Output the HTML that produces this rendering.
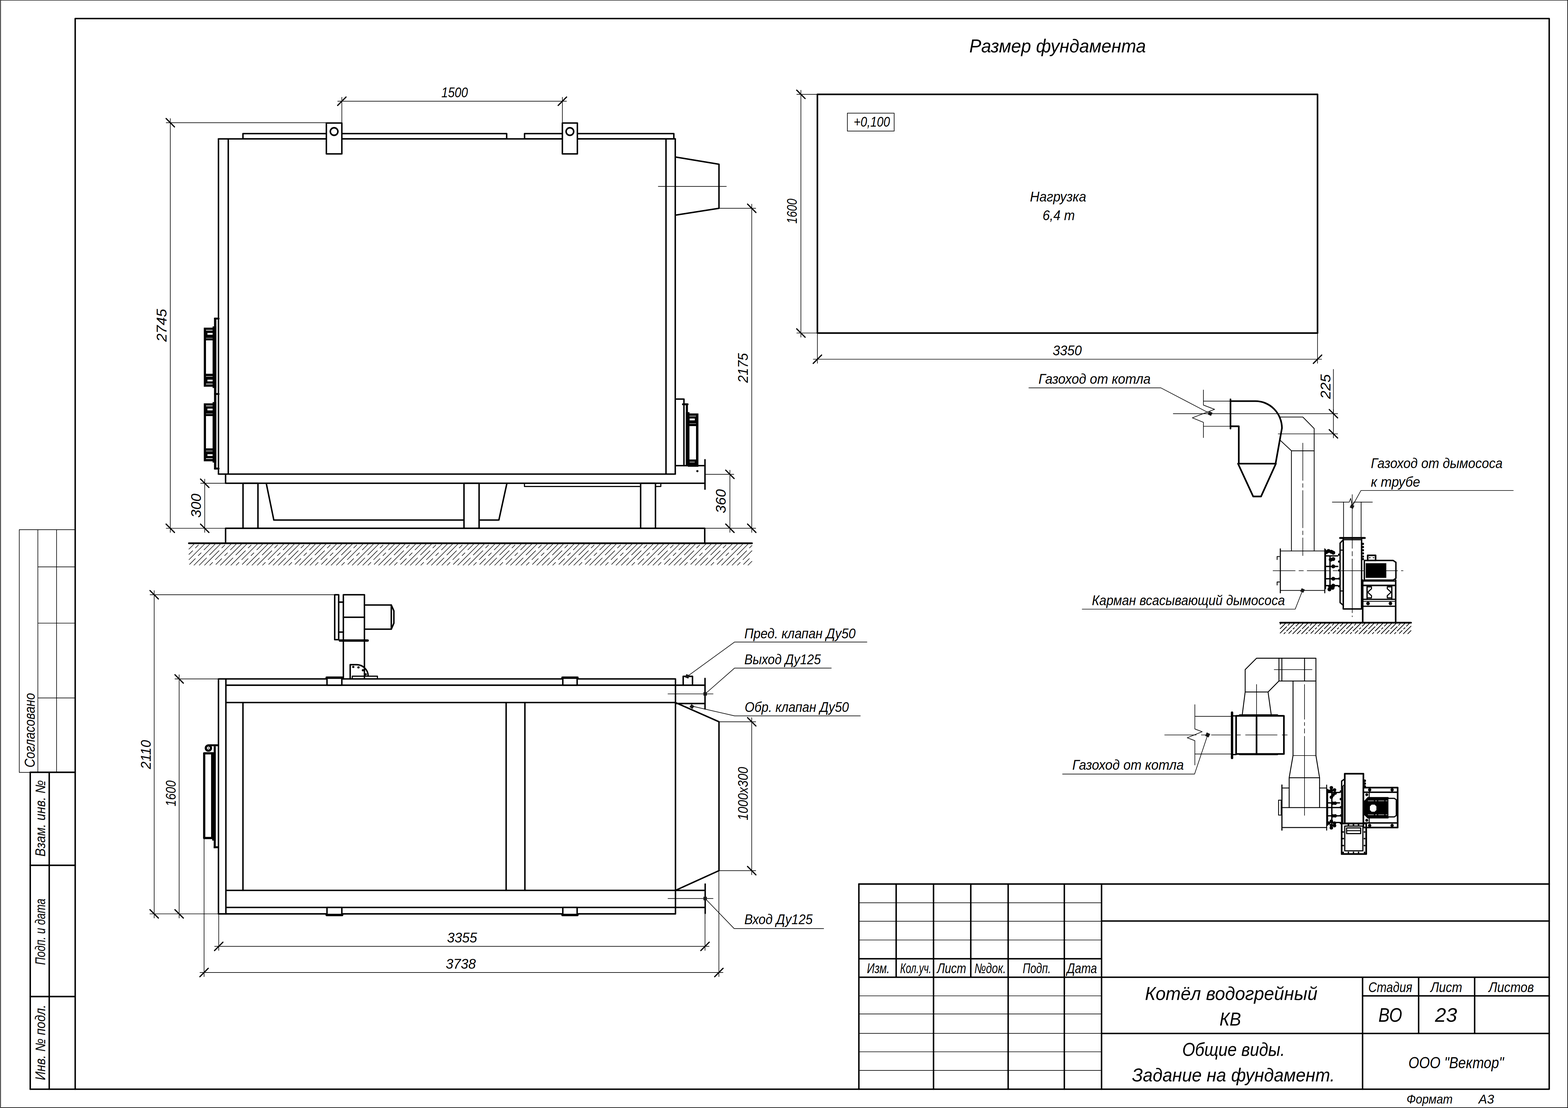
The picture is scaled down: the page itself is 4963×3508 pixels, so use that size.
<!DOCTYPE html>
<html><head><meta charset="utf-8"><title>drawing</title>
<style>
html,body{margin:0;padding:0;background:#fff}
svg{display:block}
text{font-family:"Liberation Sans",sans-serif;font-style:italic;fill:#000;stroke:none}
</style></head><body>
<svg width="4963" height="3508" viewBox="0 0 4963 3508" stroke="#000" fill="none" stroke-linecap="round" stroke-linejoin="round">
<rect x="0" y="0" width="4963" height="3508" fill="#fff" stroke="none"/>
<g id="part_frame">
<rect x="1.8" y="0.6" width="4960.2" height="3506.4" stroke-width="2" fill="none"/>
<rect x="238" y="58.8" width="4665.5" height="3389.7" stroke-width="4.6" fill="none"/>
<rect x="61" y="1677" width="177" height="768.5" stroke-width="1.9" fill="none"/>
<line x1="119.8" y1="1677" x2="119.8" y2="2445.5" stroke-width="1.9"/>
<line x1="179.1" y1="1677" x2="179.1" y2="2445.5" stroke-width="1.9"/>
<line x1="119.8" y1="1794.8" x2="238" y2="1794.8" stroke-width="1.9"/>
<line x1="119.8" y1="1972.9" x2="238" y2="1972.9" stroke-width="1.9"/>
<line x1="119.8" y1="2209.8" x2="238" y2="2209.8" stroke-width="1.9"/>
<text transform="translate(109.7,2430) rotate(-90)" font-size="46" textLength="236" lengthAdjust="spacingAndGlyphs">Согласовано</text>
<line x1="95.7" y1="2445.1" x2="95.7" y2="3448.5" stroke-width="4.6"/>
<line x1="155.8" y1="2445.1" x2="155.8" y2="3448.5" stroke-width="4.6"/>
<line x1="95.7" y1="2445.1" x2="238" y2="2445.1" stroke-width="4.6"/>
<line x1="95.7" y1="2739.6" x2="238" y2="2739.6" stroke-width="4.6"/>
<line x1="95.7" y1="3155.1" x2="238" y2="3155.1" stroke-width="4.6"/>
<line x1="95.7" y1="3448.5" x2="238" y2="3448.5" stroke-width="4.6"/>
<text transform="translate(142.8,2712) rotate(-90)" font-size="44" textLength="242" lengthAdjust="spacingAndGlyphs">Взам. инв. №</text>
<text transform="translate(142.8,3055) rotate(-90)" font-size="44" textLength="210" lengthAdjust="spacingAndGlyphs">Подп. и дата</text>
<text transform="translate(142.8,3420) rotate(-90)" font-size="44" textLength="239" lengthAdjust="spacingAndGlyphs">Инв. № подл.</text>
<line x1="2718.5" y1="2798.9" x2="4903.5" y2="2798.9" stroke-width="4.6"/>
<line x1="2718.5" y1="2798.9" x2="2718.5" y2="3448.5" stroke-width="4.6"/>
<line x1="2836.5" y1="2798.9" x2="2836.5" y2="3093" stroke-width="4.6"/>
<line x1="3072.7" y1="2798.9" x2="3072.7" y2="3093" stroke-width="4.6"/>
<line x1="2954.8" y1="2798.9" x2="2954.8" y2="3448.5" stroke-width="4.6"/>
<line x1="3191" y1="2798.9" x2="3191" y2="3448.5" stroke-width="4.6"/>
<line x1="3368.8" y1="2798.9" x2="3368.8" y2="3448.5" stroke-width="4.6"/>
<line x1="3486.6" y1="2798.9" x2="3486.6" y2="3448.5" stroke-width="4.6"/>
<line x1="2718.5" y1="2858.2" x2="3486.6" y2="2858.2" stroke-width="1.9"/>
<line x1="2718.5" y1="2916.7" x2="3486.6" y2="2916.7" stroke-width="1.9"/>
<line x1="2718.5" y1="2976.1" x2="3486.6" y2="2976.1" stroke-width="1.9"/>
<line x1="2718.5" y1="3152.9" x2="3486.6" y2="3152.9" stroke-width="1.9"/>
<line x1="2718.5" y1="3210.3" x2="3486.6" y2="3210.3" stroke-width="1.9"/>
<line x1="2718.5" y1="3271.7" x2="3486.6" y2="3271.7" stroke-width="1.9"/>
<line x1="2718.5" y1="3330.1" x2="3486.6" y2="3330.1" stroke-width="1.9"/>
<line x1="2718.5" y1="3389" x2="3486.6" y2="3389" stroke-width="1.9"/>
<line x1="2718.5" y1="3035.5" x2="3486.6" y2="3035.5" stroke-width="4.6"/>
<line x1="2718.5" y1="3094" x2="4903.5" y2="3094" stroke-width="4.6"/>
<line x1="3486.6" y1="2916" x2="4903.5" y2="2916" stroke-width="4.6"/>
<line x1="3486.6" y1="3272" x2="4903.5" y2="3272" stroke-width="4.6"/>
<line x1="4312.8" y1="3094" x2="4312.8" y2="3448.5" stroke-width="4.6"/>
<line x1="4490.2" y1="3094" x2="4490.2" y2="3272" stroke-width="4.6"/>
<line x1="4667.5" y1="3094" x2="4667.5" y2="3272" stroke-width="4.6"/>
<line x1="4312.8" y1="3153" x2="4903.5" y2="3153" stroke-width="4.6"/>
<text x="2744" y="3080.6" font-size="44" textLength="72" lengthAdjust="spacingAndGlyphs">Изм.</text>
<text x="2849" y="3080.6" font-size="44" textLength="99" lengthAdjust="spacingAndGlyphs">Кол.уч.</text>
<text x="2966" y="3080.6" font-size="44" textLength="92" lengthAdjust="spacingAndGlyphs">Лист</text>
<text x="3084" y="3080.6" font-size="44" textLength="100" lengthAdjust="spacingAndGlyphs">№док.</text>
<text x="3237" y="3080.6" font-size="44" textLength="89" lengthAdjust="spacingAndGlyphs">Подп.</text>
<text x="3377" y="3080.6" font-size="44" textLength="95" lengthAdjust="spacingAndGlyphs">Дата</text>
<text x="3624" y="3166.2" font-size="60" textLength="546" lengthAdjust="spacingAndGlyphs">Котёл водогрейный</text>
<text x="3860" y="3247.2" font-size="60" textLength="68" lengthAdjust="spacingAndGlyphs">КВ</text>
<text x="3742" y="3342.8" font-size="60" textLength="325" lengthAdjust="spacingAndGlyphs">Общие виды.</text>
<text x="3583" y="3423.8" font-size="60" textLength="642" lengthAdjust="spacingAndGlyphs">Задание на фундамент.</text>
<text x="4331" y="3141" font-size="44" textLength="139" lengthAdjust="spacingAndGlyphs">Стадия</text>
<text x="4528" y="3141" font-size="44" textLength="100" lengthAdjust="spacingAndGlyphs">Лист</text>
<text x="4712" y="3141" font-size="44" textLength="143" lengthAdjust="spacingAndGlyphs">Листов</text>
<text x="4363" y="3234.9" font-size="63" textLength="75" lengthAdjust="spacingAndGlyphs">ВО</text>
<text x="4542" y="3234.9" font-size="63" textLength="70" lengthAdjust="spacingAndGlyphs">23</text>
<text x="4458" y="3381.8" font-size="50" textLength="302" lengthAdjust="spacingAndGlyphs">ООО "Вектор"</text>
<text x="4452" y="3493.7" font-size="40" textLength="146" lengthAdjust="spacingAndGlyphs">Формат</text>
<text x="4680" y="3493.7" font-size="40" textLength="49" lengthAdjust="spacingAndGlyphs">А3</text>
</g>
<g id="part_front">
<path d="M614.7 1722L598 1738.7M628 1725.4L618.6 1734.8M609.8 1743.6L598 1755.4M648.1 1722L598.2 1772M664.8 1722L645.9 1740.9M636.5 1750.3L627.7 1759.1M618.2 1768.6L600 1786.8M681.5 1722L614 1789.5M698.2 1722L663.1 1757.1M653.7 1766.5L630.7 1789.5M711.5 1725.4L702.1 1734.8M693.3 1743.6L647.4 1789.5M731.6 1722L681.7 1772M672.9 1780.7L664.1 1789.5M748.3 1722L729.4 1740.9M720 1750.3L711.2 1759.1M701.7 1768.6L683.5 1786.8M765 1722L697.5 1789.5M781.7 1722L746.6 1757.1M737.2 1766.5L714.2 1789.5M795 1725.4L785.6 1734.8M776.8 1743.6L730.9 1789.5M815.1 1722L765.2 1772M756.4 1780.7L747.6 1789.5M831.8 1722L812.9 1740.9M803.5 1750.3L794.7 1759.1M785.2 1768.6L767 1786.8M848.5 1722L781 1789.5M865.2 1722L830.1 1757.1M820.7 1766.5L797.7 1789.5M878.5 1725.4L869.1 1734.8M860.3 1743.6L814.4 1789.5M898.6 1722L848.7 1772M839.9 1780.7L831.1 1789.5M915.3 1722L896.4 1740.9M887 1750.3L878.2 1759.1M868.7 1768.6L850.5 1786.8M932 1722L864.5 1789.5M948.7 1722L913.6 1757.1M904.2 1766.5L881.2 1789.5M962 1725.4L952.6 1734.8M943.8 1743.6L897.9 1789.5M982.1 1722L932.2 1772M923.4 1780.7L914.6 1789.5M998.8 1722L979.9 1740.9M970.5 1750.3L961.7 1759.1M952.2 1768.6L934 1786.8M1015.5 1722L948 1789.5M1032.2 1722L997.1 1757.1M987.7 1766.5L964.7 1789.5M1045.5 1725.4L1036.1 1734.8M1027.3 1743.6L981.4 1789.5M1065.6 1722L1015.7 1772M1006.9 1780.7L998.1 1789.5M1082.3 1722L1063.4 1740.9M1054 1750.3L1045.2 1759.1M1035.7 1768.6L1017.5 1786.8M1099 1722L1031.5 1789.5M1115.7 1722L1080.6 1757.1M1071.2 1766.5L1048.2 1789.5M1129 1725.4L1119.6 1734.8M1110.8 1743.6L1064.9 1789.5M1149.1 1722L1099.2 1772M1090.4 1780.7L1081.6 1789.5M1165.8 1722L1146.9 1740.9M1137.5 1750.3L1128.7 1759.1M1119.2 1768.6L1101 1786.8M1182.5 1722L1115 1789.5M1199.2 1722L1164.1 1757.1M1154.7 1766.5L1131.7 1789.5M1212.5 1725.4L1203.1 1734.8M1194.3 1743.6L1148.4 1789.5M1232.6 1722L1182.7 1772M1173.9 1780.7L1165.1 1789.5M1249.3 1722L1230.4 1740.9M1221 1750.3L1212.2 1759.1M1202.7 1768.6L1184.5 1786.8M1266 1722L1198.5 1789.5M1282.7 1722L1247.6 1757.1M1238.2 1766.5L1215.2 1789.5M1296 1725.4L1286.6 1734.8M1277.8 1743.6L1231.9 1789.5M1316.1 1722L1266.2 1772M1257.4 1780.7L1248.6 1789.5M1332.8 1722L1313.9 1740.9M1304.5 1750.3L1295.7 1759.1M1286.2 1768.6L1268 1786.8M1349.5 1722L1282 1789.5M1366.2 1722L1331.1 1757.1M1321.7 1766.5L1298.7 1789.5M1379.5 1725.4L1370.1 1734.8M1361.3 1743.6L1315.4 1789.5M1399.6 1722L1349.7 1772M1340.9 1780.7L1332.1 1789.5M1416.3 1722L1397.4 1740.9M1388 1750.3L1379.2 1759.1M1369.7 1768.6L1351.5 1786.8M1433 1722L1365.5 1789.5M1449.7 1722L1414.6 1757.1M1405.2 1766.5L1382.2 1789.5M1463 1725.4L1453.6 1734.8M1444.8 1743.6L1398.9 1789.5M1483.1 1722L1433.2 1772M1424.4 1780.7L1415.6 1789.5M1499.8 1722L1480.9 1740.9M1471.5 1750.3L1462.7 1759.1M1453.2 1768.6L1435 1786.8M1516.5 1722L1449 1789.5M1533.2 1722L1498.1 1757.1M1488.7 1766.5L1465.7 1789.5M1546.5 1725.4L1537.1 1734.8M1528.3 1743.6L1482.4 1789.5M1566.6 1722L1516.7 1772M1507.9 1780.7L1499.1 1789.5M1583.3 1722L1564.4 1740.9M1555 1750.3L1546.2 1759.1M1536.7 1768.6L1518.5 1786.8M1600 1722L1532.5 1789.5M1616.7 1722L1581.6 1757.1M1572.2 1766.5L1549.2 1789.5M1630 1725.4L1620.6 1734.8M1611.8 1743.6L1565.9 1789.5M1650.1 1722L1600.2 1772M1591.4 1780.7L1582.6 1789.5M1666.8 1722L1647.9 1740.9M1638.5 1750.3L1629.7 1759.1M1620.2 1768.6L1602 1786.8M1683.5 1722L1616 1789.5M1700.2 1722L1665.1 1757.1M1655.7 1766.5L1632.7 1789.5M1713.5 1725.4L1704.1 1734.8M1695.3 1743.6L1649.4 1789.5M1733.6 1722L1683.7 1772M1674.9 1780.7L1666.1 1789.5M1750.3 1722L1731.4 1740.9M1722 1750.3L1713.2 1759.1M1703.7 1768.6L1685.5 1786.8M1767 1722L1699.5 1789.5M1783.7 1722L1748.6 1757.1M1739.2 1766.5L1716.2 1789.5M1797 1725.4L1787.6 1734.8M1778.8 1743.6L1732.9 1789.5M1817.1 1722L1767.2 1772M1758.4 1780.7L1749.6 1789.5M1833.8 1722L1814.9 1740.9M1805.5 1750.3L1796.7 1759.1M1787.2 1768.6L1769 1786.8M1850.5 1722L1783 1789.5M1867.2 1722L1832.1 1757.1M1822.7 1766.5L1799.7 1789.5M1880.5 1725.4L1871.1 1734.8M1862.3 1743.6L1816.4 1789.5M1900.6 1722L1850.7 1772M1841.9 1780.7L1833.1 1789.5M1917.3 1722L1898.4 1740.9M1889 1750.3L1880.2 1759.1M1870.7 1768.6L1852.5 1786.8M1934 1722L1866.5 1789.5M1950.7 1722L1915.6 1757.1M1906.2 1766.5L1883.2 1789.5M1964 1725.4L1954.6 1734.8M1945.8 1743.6L1899.9 1789.5M1984.1 1722L1934.2 1772M1925.4 1780.7L1916.6 1789.5M2000.8 1722L1981.9 1740.9M1972.5 1750.3L1963.7 1759.1M1954.2 1768.6L1936 1786.8M2017.5 1722L1950 1789.5M2034.2 1722L1999.1 1757.1M1989.7 1766.5L1966.7 1789.5M2047.5 1725.4L2038.1 1734.8M2029.3 1743.6L1983.4 1789.5M2067.6 1722L2017.7 1772M2008.9 1780.7L2000.1 1789.5M2084.3 1722L2065.4 1740.9M2056 1750.3L2047.2 1759.1M2037.7 1768.6L2019.5 1786.8M2101 1722L2033.5 1789.5M2117.7 1722L2082.6 1757.1M2073.2 1766.5L2050.2 1789.5M2131 1725.4L2121.6 1734.8M2112.8 1743.6L2066.9 1789.5M2151.1 1722L2101.2 1772M2092.4 1780.7L2083.6 1789.5M2167.8 1722L2148.9 1740.9M2139.5 1750.3L2130.7 1759.1M2121.2 1768.6L2103 1786.8M2184.5 1722L2117 1789.5M2201.2 1722L2166.1 1757.1M2156.7 1766.5L2133.7 1789.5M2214.5 1725.4L2205.1 1734.8M2196.3 1743.6L2150.4 1789.5M2234.6 1722L2184.7 1772M2175.9 1780.7L2167.1 1789.5M2251.3 1722L2232.4 1740.9M2223 1750.3L2214.2 1759.1M2204.7 1768.6L2186.5 1786.8M2268 1722L2200.5 1789.5M2284.7 1722L2249.6 1757.1M2240.2 1766.5L2217.2 1789.5M2298 1725.4L2288.6 1734.8M2279.8 1743.6L2233.9 1789.5M2318.1 1722L2268.2 1772M2259.4 1780.7L2250.6 1789.5M2334.8 1722L2315.9 1740.9M2306.5 1750.3L2297.7 1759.1M2288.2 1768.6L2270 1786.8M2351.5 1722L2284 1789.5M2368.2 1722L2333.1 1757.1M2323.7 1766.5L2300.7 1789.5M2380 1726.9L2372.1 1734.8M2363.3 1743.6L2317.4 1789.5M2380 1743.6L2351.7 1772M2342.9 1780.7L2334.1 1789.5M2371.7 1768.6L2353.5 1786.8M2380 1777L2367.5 1789.5" stroke-width="1.7" fill="none"/>
<line x1="598" y1="1720" x2="2380" y2="1720" stroke-width="5.6"/>
<path d="M714 1720 L714 1672.6 L2230.6 1672.6 L2230.6 1720" stroke-width="4.6" fill="none"/>
<path d="M842.7 1530 L866.7 1646.5 L1579 1646.5 L1604.5 1530" stroke-width="4.6" fill="none"/>
<path d="M1660 1530 L1660 1540.2 L2091.6 1540.2 L2091.6 1530" stroke-width="3.4" fill="none"/>
<rect x="769.2" y="1530" width="47.3" height="142.6" stroke-width="4.6" fill="#fff"/>
<rect x="1468.6" y="1530" width="47.8" height="142.6" stroke-width="4.6" fill="#fff"/>
<rect x="2027.7" y="1530" width="47" height="142.6" stroke-width="4.6" fill="#fff"/>
<path d="M714 1501 L714 1530 L2231.4 1530" stroke-width="4.6" fill="none"/>
<line x1="2137.3" y1="1474.3" x2="2231.4" y2="1474.3" stroke-width="4.6"/>
<line x1="2231.4" y1="1455.5" x2="2231.4" y2="1548.7" stroke-width="4.6"/>
<circle cx="2207.3" cy="1491.6" r="3.4" stroke="none" fill="#000"/>
<line x1="691.5" y1="439.7" x2="2137.3" y2="439.7" stroke-width="4.6"/>
<line x1="691.5" y1="439.7" x2="691.5" y2="1501" stroke-width="4.6"/>
<line x1="722.5" y1="439.7" x2="722.5" y2="1501" stroke-width="4.6"/>
<line x1="2108" y1="439.7" x2="2108" y2="1501" stroke-width="4.6"/>
<line x1="2137.3" y1="439.7" x2="2137.3" y2="1501" stroke-width="4.6"/>
<line x1="691.5" y1="1501" x2="2137.3" y2="1501" stroke-width="4.6"/>
<path d="M769 439.7 L769 423 L1603.7 423 L1603.7 439.7" stroke-width="4.6" fill="none"/>
<path d="M1660.3 439.7 L1660.3 423 L2132.8 423 L2132.8 439.7" stroke-width="4.6" fill="none"/>
<line x1="769" y1="439.7" x2="1603.7" y2="439.7" stroke-width="4.6"/>
<line x1="1660.3" y1="439.7" x2="2137" y2="439.7" stroke-width="4.6"/>
<rect x="1033" y="389.5" width="49" height="97.8" stroke-width="4.6" fill="#fff"/>
<circle cx="1057.5" cy="416.5" r="12" stroke-width="4.8" fill="#fff"/>
<rect x="1780" y="389.5" width="47.5" height="97.8" stroke-width="4.6" fill="#fff"/>
<circle cx="1803.8" cy="416.5" r="12" stroke-width="4.8" fill="#fff"/>
<path d="M2137.3 497 L2275.7 520 L2275.7 659.5 L2137.3 681.3" stroke-width="4.6" fill="none"/>
<line x1="2083.6" y1="590.2" x2="2299" y2="590.2" stroke-width="1.9"/>
<rect x="677.4" y="1005.8" width="7.4" height="480.7" stroke="none" fill="#000"/>
<line x1="680.4" y1="1008.7" x2="692" y2="1008.7" stroke-width="5.8"/>
<line x1="680.4" y1="1247.4" x2="692" y2="1247.4" stroke-width="5.8"/>
<line x1="680.4" y1="1483.5" x2="692" y2="1483.5" stroke-width="5.8"/>
<rect x="645" y="1037.4" width="32.4" height="187" stroke="none" fill="#000"/>
<rect x="672.9" y="1033.4" width="11.9" height="195" stroke="none" fill="#000"/>
<rect x="652" y="1044.4" width="20.9" height="2.2" stroke="none" fill="#fff"/>
<rect x="656.6" y="1054" width="16.3" height="5.8" stroke="none" fill="#fff"/>
<rect x="652" y="1070" width="20.9" height="1.2" stroke="none" fill="#fff"/>
<rect x="652" y="1077.6" width="20.9" height="105.8" stroke="none" fill="#fff"/>
<rect x="652" y="1190.9" width="20.9" height="1.7" stroke="none" fill="#fff"/>
<rect x="656.6" y="1202" width="16.3" height="5.5" stroke="none" fill="#fff"/>
<rect x="652" y="1214.8" width="20.9" height="2.2" stroke="none" fill="#fff"/>
<rect x="645" y="1277" width="32.4" height="183.5" stroke="none" fill="#000"/>
<rect x="672.9" y="1273" width="11.9" height="191.5" stroke="none" fill="#000"/>
<rect x="652" y="1284" width="20.9" height="2.2" stroke="none" fill="#fff"/>
<rect x="656.6" y="1293.6" width="16.3" height="5.8" stroke="none" fill="#fff"/>
<rect x="652" y="1309.6" width="20.9" height="1.2" stroke="none" fill="#fff"/>
<rect x="652" y="1317.2" width="20.9" height="102.3" stroke="none" fill="#fff"/>
<rect x="652" y="1427" width="20.9" height="1.7" stroke="none" fill="#fff"/>
<rect x="656.6" y="1438.1" width="16.3" height="5.5" stroke="none" fill="#fff"/>
<rect x="652" y="1450.9" width="20.9" height="2.2" stroke="none" fill="#fff"/>
<path d="M2137.3 1263.5 L2164.8 1263.5 L2164.8 1474.3" stroke-width="4.6" fill="none"/>
<line x1="2161.6" y1="1280" x2="2176.5" y2="1280" stroke-width="5.8"/>
<rect x="2170.7" y="1277.4" width="6.7" height="198.7" stroke="none" fill="#000"/>
<rect x="2170.7" y="1304.8" width="11.6" height="171.3" stroke="none" fill="#000"/>
<rect x="2177.4" y="1309" width="33.2" height="168.8" stroke="none" fill="#000"/>
<rect x="2182.3" y="1316.5" width="20.7" height="1.7" stroke="none" fill="#fff"/>
<rect x="2182.8" y="1325" width="16.2" height="6" stroke="none" fill="#fff"/>
<rect x="2182.3" y="1340.6" width="20.7" height="1.2" stroke="none" fill="#fff"/>
<rect x="2182.3" y="1349" width="20.7" height="105.8" stroke="none" fill="#fff"/>
<rect x="2182.8" y="1462" width="16.2" height="1.7" stroke="none" fill="#fff"/>
<line x1="1082" y1="308" x2="1082" y2="389" stroke-width="1.9"/>
<line x1="1780" y1="308" x2="1780" y2="391" stroke-width="1.9"/>
<line x1="1069" y1="320.5" x2="1793" y2="320.5" stroke-width="1.9"/>
<line x1="1068.7" y1="333.8" x2="1095.3" y2="307.2" stroke-width="3.8"/>
<line x1="1766.7" y1="333.8" x2="1793.3" y2="307.2" stroke-width="3.8"/>
<text x="1397" y="308.1" font-size="44" textLength="84" lengthAdjust="spacingAndGlyphs">1500</text>
<line x1="526" y1="388.5" x2="1033" y2="388.5" stroke-width="1.9"/>
<line x1="526" y1="1672.6" x2="714" y2="1672.6" stroke-width="1.9"/>
<line x1="539" y1="375.5" x2="539" y2="1685.6" stroke-width="1.9"/>
<line x1="525.7" y1="375.2" x2="552.3" y2="401.8" stroke-width="3.8"/>
<line x1="525.7" y1="1659.3" x2="552.3" y2="1685.9" stroke-width="3.8"/>
<text transform="translate(526.8,1082) rotate(-90)" font-size="44" textLength="104" lengthAdjust="spacingAndGlyphs">2745</text>
<line x1="635" y1="1530" x2="714" y2="1530" stroke-width="1.9"/>
<line x1="648" y1="1517" x2="648" y2="1685.6" stroke-width="1.9"/>
<line x1="634.7" y1="1516.7" x2="661.3" y2="1543.3" stroke-width="3.8"/>
<line x1="634.7" y1="1659.3" x2="661.3" y2="1685.9" stroke-width="3.8"/>
<text transform="translate(636.3,1639) rotate(-90)" font-size="44" textLength="76" lengthAdjust="spacingAndGlyphs">300</text>
<line x1="2276" y1="659.5" x2="2392" y2="659.5" stroke-width="1.9"/>
<line x1="2231" y1="1672.5" x2="2392" y2="1672.5" stroke-width="1.9"/>
<line x1="2379.4" y1="646.5" x2="2379.4" y2="1685.5" stroke-width="1.9"/>
<line x1="2366.1" y1="646.2" x2="2392.7" y2="672.8" stroke-width="3.8"/>
<line x1="2366.1" y1="1659.2" x2="2392.7" y2="1685.8" stroke-width="3.8"/>
<text transform="translate(2366.5,1212) rotate(-90)" font-size="44" textLength="94" lengthAdjust="spacingAndGlyphs">2175</text>
<line x1="2231" y1="1501.8" x2="2322.7" y2="1501.8" stroke-width="1.9"/>
<line x1="2310.3" y1="1488.8" x2="2310.3" y2="1685.5" stroke-width="1.9"/>
<line x1="2297" y1="1488.5" x2="2323.6" y2="1515.1" stroke-width="3.8"/>
<line x1="2297" y1="1659.2" x2="2323.6" y2="1685.8" stroke-width="3.8"/>
<text transform="translate(2296.8,1625) rotate(-90)" font-size="44" textLength="76" lengthAdjust="spacingAndGlyphs">360</text>
</g>
<g id="part_top">
<rect x="1059.4" y="1883" width="12.6" height="142.2" stroke-width="4.6" fill="none"/>
<path d="M1072 1906.4 L1086.8 1906.4" stroke-width="4.6" fill="none"/>
<path d="M1072 2001.3 L1086.8 2001.3" stroke-width="4.6" fill="none"/>
<path d="M1086.8 2028 L1086.8 1883 L1153.5 1883 L1153.5 2028" stroke-width="4.6" fill="none"/>
<line x1="1086.8" y1="1954.3" x2="1153.5" y2="1954.3" stroke-width="4.6"/>
<path d="M1153.5 1915.5 L1238.5 1915.5 L1246.7 1934 L1246.7 1973 L1238.5 1992 L1153.5 1992" stroke-width="4.6" fill="none"/>
<line x1="1238.5" y1="1915.5" x2="1238.5" y2="1992" stroke-width="4.6"/>
<line x1="1075.8" y1="2028" x2="1163.6" y2="2028" stroke-width="7.5"/>
<line x1="1086.8" y1="2028" x2="1086.8" y2="2149.5" stroke-width="4.6"/>
<line x1="1153.5" y1="2028" x2="1153.5" y2="2149.5" stroke-width="4.6"/>
<path d="M1108.4 2149.5 L1108.4 2104.4 L1128 2104.4 A37 36 0 0 1 1165.2 2140.5" stroke-width="4.6" fill="none"/>
<rect x="1115" y="2140.9" width="79.6" height="8.6" stroke-width="3.6" fill="none"/>
<circle cx="1118.2" cy="2111.5" r="3.6" stroke="none" fill="#000"/>
<circle cx="1134.6" cy="2113" r="3.6" stroke="none" fill="#000"/>
<circle cx="1148.7" cy="2122" r="3.6" stroke="none" fill="#000"/>
<circle cx="1157.4" cy="2135" r="3.6" stroke="none" fill="#000"/>
<rect x="691.5" y="2149.5" width="1446.5" height="743.9" stroke-width="4.6" fill="none"/>
<line x1="715" y1="2149.5" x2="715" y2="2893.4" stroke-width="4.6"/>
<line x1="715" y1="2169.4" x2="2138" y2="2169.4" stroke-width="4.6"/>
<line x1="715" y1="2224.3" x2="2138" y2="2224.3" stroke-width="4.6"/>
<line x1="715" y1="2819" x2="2138" y2="2819" stroke-width="4.6"/>
<line x1="715" y1="2873" x2="2138" y2="2873" stroke-width="4.6"/>
<line x1="769" y1="2224.3" x2="769" y2="2819" stroke-width="4.6"/>
<line x1="1602" y1="2224.3" x2="1602" y2="2819" stroke-width="4.6"/>
<line x1="1661.4" y1="2224.3" x2="1661.4" y2="2819" stroke-width="4.6"/>
<rect x="1035" y="2147" width="47" height="22.4" stroke-width="4.6" fill="#fff"/>
<line x1="1034" y1="2145.6" x2="1083" y2="2145.6" stroke-width="7.5"/>
<rect x="1035" y="2873" width="47" height="22.5" stroke-width="4.6" fill="#fff"/>
<line x1="1034" y1="2897" x2="1083" y2="2897" stroke-width="7.5"/>
<rect x="1781.4" y="2147" width="45.3" height="22.4" stroke-width="4.6" fill="#fff"/>
<line x1="1780.4" y1="2145.6" x2="1827.7" y2="2145.6" stroke-width="7.5"/>
<rect x="1781.4" y="2873" width="45.3" height="22.5" stroke-width="4.6" fill="#fff"/>
<line x1="1780.4" y1="2897" x2="1827.7" y2="2897" stroke-width="7.5"/>
<rect x="676.4" y="2362.4" width="6.5" height="323" stroke="none" fill="#000"/>
<line x1="658" y1="2359.4" x2="691.5" y2="2359.4" stroke-width="6" stroke-linecap="butt"/>
<line x1="676.4" y1="2682.4" x2="691.5" y2="2682.4" stroke-width="6" stroke-linecap="butt"/>
<circle cx="659.6" cy="2368.4" r="8.2" stroke-width="7" fill="#fff"/>
<circle cx="659.6" cy="2368.4" r="1.6" stroke="none" fill="#000"/>
<rect x="671.6" y="2381.6" width="11.3" height="279.8" stroke="none" fill="#000"/>
<rect x="646.3" y="2385" width="25.3" height="268.2" stroke-width="7" fill="#fff"/>
<path d="M2138 2224.3 L2275.7 2285.2 L2275.7 2756.5 L2138 2819" stroke-width="4.6" fill="none"/>
<path d="M2162.4 2169.4 L2162.4 2141.4 L2191.9 2141.4 L2191.9 2169.4" stroke-width="4.6" fill="none"/>
<line x1="2138" y1="2169.4" x2="2231.5" y2="2169.4" stroke-width="4.6"/>
<line x1="2138" y1="2227.4" x2="2231.5" y2="2227.4" stroke-width="4.6"/>
<line x1="2231.5" y1="2148" x2="2231.5" y2="2244.4" stroke-width="4.6"/>
<line x1="2114.3" y1="2196.9" x2="2257" y2="2196.9" stroke-width="1.9"/>
<line x1="2138" y1="2819" x2="2229" y2="2819" stroke-width="4.6"/>
<line x1="2138" y1="2873" x2="2231.5" y2="2873" stroke-width="4.6"/>
<line x1="2232" y1="2799" x2="2232" y2="2891.8" stroke-width="4.6"/>
<line x1="2114.3" y1="2844.8" x2="2257" y2="2844.8" stroke-width="1.9"/>
<path d="M2744 2032.7 L2325 2032.7 L2175.5 2141.4" stroke-width="1.9" fill="none"/>
<rect x="2170" y="2135.9" width="11" height="11" stroke="none" fill="#1a1a1a" transform="rotate(20 2175.5 2141.4)"/>
<text x="2356" y="2021.1" font-size="44" textLength="352" lengthAdjust="spacingAndGlyphs">Пред. клапан Ду50</text>
<path d="M2631.2 2115.3 L2325 2115.3 L2232 2196.9" stroke-width="1.9" fill="none"/>
<rect x="2226.5" y="2191.4" width="11" height="11" stroke="none" fill="#1a1a1a" transform="rotate(0 2232 2196.9)"/>
<text x="2356" y="2102.6" font-size="44" textLength="242" lengthAdjust="spacingAndGlyphs">Выход Ду125</text>
<path d="M2723 2266.5 L2325 2266.5 L2191.9 2236" stroke-width="1.9" fill="none"/>
<rect x="2184.5" y="2231.5" width="11" height="11" stroke="none" fill="#1a1a1a" transform="rotate(35 2190 2237)"/>
<text x="2357" y="2254.3" font-size="44" textLength="330" lengthAdjust="spacingAndGlyphs">Обр. клапан Ду50</text>
<path d="M2607 2940 L2323.8 2940 L2232 2844.8" stroke-width="1.9" fill="none"/>
<rect x="2226.5" y="2839.3" width="11" height="11" stroke="none" fill="#1a1a1a" transform="rotate(0 2232 2844.8)"/>
<text x="2356" y="2926.1" font-size="44" textLength="216" lengthAdjust="spacingAndGlyphs">Вход Ду125</text>
<line x1="475" y1="1883" x2="1059.4" y2="1883" stroke-width="1.9"/>
<line x1="474.4" y1="2893.4" x2="691.5" y2="2893.4" stroke-width="1.9"/>
<line x1="488" y1="1870" x2="488" y2="2906.4" stroke-width="1.9"/>
<line x1="474.7" y1="1869.7" x2="501.3" y2="1896.3" stroke-width="3.8"/>
<line x1="474.7" y1="2880.1" x2="501.3" y2="2906.7" stroke-width="3.8"/>
<text transform="translate(476.8,2435) rotate(-90)" font-size="44" textLength="92" lengthAdjust="spacingAndGlyphs">2110</text>
<line x1="553.7" y1="2149.5" x2="691.5" y2="2149.5" stroke-width="1.9"/>
<line x1="567" y1="2136.5" x2="567" y2="2906.4" stroke-width="1.9"/>
<line x1="553.7" y1="2136.2" x2="580.3" y2="2162.8" stroke-width="3.8"/>
<line x1="553.7" y1="2880.1" x2="580.3" y2="2906.7" stroke-width="3.8"/>
<text transform="translate(555.6,2553) rotate(-90)" font-size="44" textLength="82" lengthAdjust="spacingAndGlyphs">1600</text>
<line x1="692.3" y1="2893.4" x2="692.3" y2="3009" stroke-width="1.9"/>
<line x1="2231.5" y1="2891" x2="2231.5" y2="3009" stroke-width="1.9"/>
<line x1="679.3" y1="2996.3" x2="2244.5" y2="2996.3" stroke-width="1.9"/>
<line x1="679" y1="3009.6" x2="705.6" y2="2983" stroke-width="3.8"/>
<line x1="2218.2" y1="3009.6" x2="2244.8" y2="2983" stroke-width="3.8"/>
<text x="1415" y="2984" font-size="44" textLength="95" lengthAdjust="spacingAndGlyphs">3355</text>
<line x1="645.9" y1="2656.6" x2="645.9" y2="3092" stroke-width="1.9"/>
<line x1="2275.4" y1="2756.5" x2="2275.4" y2="3092" stroke-width="1.9"/>
<line x1="632.9" y1="3079" x2="2288.4" y2="3079" stroke-width="1.9"/>
<line x1="632.6" y1="3092.3" x2="659.2" y2="3065.7" stroke-width="3.8"/>
<line x1="2262.1" y1="3092.3" x2="2288.7" y2="3065.7" stroke-width="3.8"/>
<text x="1411" y="3066.6" font-size="44" textLength="95" lengthAdjust="spacingAndGlyphs">3738</text>
<line x1="2275.7" y1="2285.2" x2="2392" y2="2285.2" stroke-width="1.9"/>
<line x1="2275.7" y1="2756.5" x2="2392" y2="2756.5" stroke-width="1.9"/>
<line x1="2379.3" y1="2272.2" x2="2379.3" y2="2769.5" stroke-width="1.9"/>
<line x1="2366" y1="2271.9" x2="2392.6" y2="2298.5" stroke-width="3.8"/>
<line x1="2366" y1="2743.2" x2="2392.6" y2="2769.8" stroke-width="3.8"/>
<text transform="translate(2366.8,2597) rotate(-90)" font-size="44" textLength="169" lengthAdjust="spacingAndGlyphs">1000x300</text>
</g>
<g id="part_found">
<text x="3068" y="165.9" font-size="60" textLength="559" lengthAdjust="spacingAndGlyphs">Размер фундамента</text>
<rect x="2587.2" y="298.7" width="1583" height="755.7" stroke-width="5" fill="none"/>
<rect x="2682.1" y="358.3" width="148.1" height="56.7" stroke-width="2" fill="none"/>
<text x="2702" y="401.4" font-size="44" textLength="115" lengthAdjust="spacingAndGlyphs">+0,100</text>
<text x="3260" y="638.3" font-size="44" textLength="178" lengthAdjust="spacingAndGlyphs">Нагрузка</text>
<text x="3300" y="697.1" font-size="44" textLength="102" lengthAdjust="spacingAndGlyphs">6,4 т</text>
<line x1="2522" y1="298.7" x2="2587.2" y2="298.7" stroke-width="1.9"/>
<line x1="2522" y1="1054.4" x2="2587.2" y2="1054.4" stroke-width="1.9"/>
<line x1="2535" y1="285.7" x2="2535" y2="1067.4" stroke-width="1.9"/>
<line x1="2521.7" y1="285.4" x2="2548.3" y2="312" stroke-width="3.8"/>
<line x1="2521.7" y1="1041.1" x2="2548.3" y2="1067.7" stroke-width="3.8"/>
<text transform="translate(2522.4,708) rotate(-90)" font-size="44" textLength="79" lengthAdjust="spacingAndGlyphs">1600</text>
<line x1="2587.2" y1="1054.4" x2="2587.2" y2="1150" stroke-width="1.9"/>
<line x1="4170.2" y1="1054.4" x2="4170.2" y2="1150" stroke-width="1.9"/>
<line x1="2574.2" y1="1137.4" x2="4183.2" y2="1137.4" stroke-width="1.9"/>
<line x1="2573.9" y1="1150.7" x2="2600.5" y2="1124.1" stroke-width="3.8"/>
<line x1="4156.9" y1="1150.7" x2="4183.5" y2="1124.1" stroke-width="3.8"/>
<text x="3332" y="1124.8" font-size="44" textLength="92" lengthAdjust="spacingAndGlyphs">3350</text>
</g>
<g id="part_scheme1">
<text x="3287" y="1215" font-size="44" textLength="355" lengthAdjust="spacingAndGlyphs">Газоход от котла</text>
<path d="M3256.5 1228 L3674.3 1228 L3829 1308.9" stroke-width="1.9" fill="none"/>
<rect x="3825" y="1304" width="11" height="11" stroke="none" fill="#1a1a1a" transform="rotate(25 3830.5 1309.5)"/>
<path d="M3809 1234.6 L3809 1282.5 L3844.4 1296 L3774 1322.8 L3809 1337.2 L3809 1385.5" stroke-width="1.9" fill="none"/>
<line x1="3809" y1="1270" x2="3894.7" y2="1270" stroke-width="1.9"/>
<line x1="3809" y1="1349.6" x2="3894.7" y2="1349.6" stroke-width="1.9"/>
<line x1="3713.6" y1="1309.8" x2="4233.9" y2="1309.8" stroke-width="1.9"/>
<line x1="3894.7" y1="1264.3" x2="3894.7" y2="1356.8" stroke-width="5.2"/>
<path d="M3894.7 1270 L3973.7 1270 A84 86 0 0 1 4057.6 1355.4 L4037.4 1468" stroke-width="5.2" fill="none"/>
<path d="M3894.7 1349.6 L3921 1349.6 L3921 1468" stroke-width="5.2" fill="none"/>
<path d="M3918.6 1468 L3966.6 1571.9 L3991.4 1571.9 L4038.4 1468 L3918.6 1468" stroke-width="5.2" fill="none"/>
<path d="M4050.4 1320.4 L4123.7 1320.4 L4159.6 1356.8 L4159.6 1744.2" stroke-width="2.4" fill="none"/>
<path d="M4052.8 1394.6 L4087.6 1427.2 L4087.6 1744.2" stroke-width="2.4" fill="none"/>
<line x1="4087.6" y1="1427.2" x2="4159.6" y2="1427.2" stroke-width="2.4"/>
<line x1="4045.6" y1="1373.6" x2="4233.9" y2="1373.6" stroke-width="1.9"/>
<line x1="4123.6" y1="1403" x2="4123.6" y2="1759" stroke-width="1.8" stroke-dasharray="118 10 12 10"/>
<line x1="4220.5" y1="1296.8" x2="4220.5" y2="1386.6" stroke-width="1.9"/>
<line x1="4207.2" y1="1296.5" x2="4233.8" y2="1323.1" stroke-width="3.8"/>
<line x1="4207.2" y1="1360.3" x2="4233.8" y2="1386.9" stroke-width="3.8"/>
<line x1="4220.5" y1="1169.5" x2="4220.5" y2="1309.8" stroke-width="1.9"/>
<text transform="translate(4211.3,1263) rotate(-90)" font-size="44" textLength="78" lengthAdjust="spacingAndGlyphs">225</text>
<line x1="4052.4" y1="1744.4" x2="4193.2" y2="1744.4" stroke-width="2.4"/>
<line x1="4052.4" y1="1869.4" x2="4193.2" y2="1869.4" stroke-width="2.4"/>
<line x1="4052.4" y1="1737.5" x2="4052.4" y2="1877" stroke-width="3.2"/>
<line x1="4193.2" y1="1737.5" x2="4193.2" y2="1877" stroke-width="3.2"/>
<path d="M4049.5 1762 L4042.3 1762 L4042.3 1771.6" stroke-width="2.6" fill="none"/>
<path d="M4049.5 1842.6 L4042.3 1842.6 L4042.3 1852.2" stroke-width="2.6" fill="none"/>
<line x1="4029.4" y1="1806.9" x2="4441" y2="1806.9" stroke-width="1.8" stroke-dasharray="70 12 14 12"/>
<line x1="4194.8" y1="1741" x2="4194.8" y2="1863" stroke-width="5"/>
<line x1="4209.7" y1="1763" x2="4209.7" y2="1869" stroke-width="4.2"/>
<line x1="4194" y1="1760" x2="4234.4" y2="1760" stroke-width="4.2"/>
<line x1="4194" y1="1793.3" x2="4234.4" y2="1793.3" stroke-width="4.2"/>
<line x1="4194" y1="1832.4" x2="4234.4" y2="1832.4" stroke-width="4.2"/>
<line x1="4194" y1="1854.2" x2="4234.4" y2="1854.2" stroke-width="4.2"/>
<circle cx="4205" cy="1744.5" r="6.2" stroke="none" fill="#000"/>
<circle cx="4214" cy="1747" r="6.2" stroke="none" fill="#000"/>
<circle cx="4220" cy="1750" r="6.2" stroke="none" fill="#000"/>
<circle cx="4220" cy="1770" r="6.2" stroke="none" fill="#000"/>
<circle cx="4212" cy="1772" r="6.2" stroke="none" fill="#000"/>
<circle cx="4220" cy="1793.3" r="6.2" stroke="none" fill="#000"/>
<circle cx="4220" cy="1832.4" r="6.2" stroke="none" fill="#000"/>
<circle cx="4220" cy="1854.2" r="6.2" stroke="none" fill="#000"/>
<circle cx="4210" cy="1857" r="6.2" stroke="none" fill="#000"/>
<circle cx="4208" cy="1866" r="6.2" stroke="none" fill="#000"/>
<circle cx="4218" cy="1861" r="6.2" stroke="none" fill="#000"/>
<circle cx="4198" cy="1748" r="6.2" stroke="none" fill="#000"/>
<circle cx="4238.5" cy="1756" r="3.6" stroke="none" fill="#000"/>
<circle cx="4238.5" cy="1778" r="3.6" stroke="none" fill="#000"/>
<circle cx="4238.5" cy="1806" r="3.6" stroke="none" fill="#000"/>
<circle cx="4238.5" cy="1832" r="3.6" stroke="none" fill="#000"/>
<circle cx="4238.5" cy="1856" r="3.6" stroke="none" fill="#000"/>
<line x1="4241.6" y1="1703.2" x2="4319.8" y2="1703.2" stroke-width="6"/>
<line x1="4251.7" y1="1708.7" x2="4309.7" y2="1708.7" stroke-width="3.6"/>
<path d="M4251.7 1709 L4241.6 1719.5 L4241.6 1907.8 L4251.7 1916.5" stroke-width="4.2" fill="none"/>
<path d="M4251.7 1706 L4251.7 1928 L4309.7 1928 L4309.7 1706" stroke-width="4.6" fill="none"/>
<line x1="4241.6" y1="1741.8" x2="4251.7" y2="1741.8" stroke-width="3.6"/>
<line x1="4241.6" y1="1871" x2="4251.7" y2="1871" stroke-width="3.6"/>
<circle cx="4314" cy="1722" r="3.4" stroke="none" fill="#000"/>
<circle cx="4314" cy="1732" r="3.4" stroke="none" fill="#000"/>
<circle cx="4314" cy="1742" r="3.4" stroke="none" fill="#000"/>
<circle cx="4314" cy="1752" r="3.4" stroke="none" fill="#000"/>
<circle cx="4314" cy="1762" r="3.4" stroke="none" fill="#000"/>
<circle cx="4314" cy="1770" r="3.4" stroke="none" fill="#000"/>
<line x1="4252.6" y1="1589.7" x2="4252.6" y2="1703" stroke-width="2.2"/>
<line x1="4308.2" y1="1589.7" x2="4308.2" y2="1703" stroke-width="2.2"/>
<path d="M4217 1589.7 L4270.5 1589.7 L4275 1578 L4280.5 1603 L4285 1589.7 L4343.9 1589.7" stroke-width="1.9" fill="none"/>
<line x1="4280.1" y1="1566" x2="4280.1" y2="1952.7" stroke-width="1.8" stroke-dasharray="170 10 14 10"/>
<text x="4339" y="1482.1" font-size="44" textLength="417" lengthAdjust="spacingAndGlyphs">Газоход от дымососа</text>
<text x="4339" y="1540.9" font-size="44" textLength="156" lengthAdjust="spacingAndGlyphs">к трубе</text>
<path d="M4789.8 1552.9 L4307.7 1552.9 L4281 1601" stroke-width="1.9" fill="none"/>
<rect x="4274" y="1598.3" width="11" height="11" stroke="none" fill="#1a1a1a" transform="rotate(25 4279.5 1603.8)"/>
<path d="M4318.4 1774.5 L4409.6 1774.5 L4418.3 1780.3 L4418.3 1831 L4409.6 1836.8 L4318.4 1836.8 L4318.4 1774.5" stroke-width="4.4" fill="none"/>
<rect x="4322.7" y="1783.2" width="65.2" height="46.3" stroke="none" fill="#000"/>
<rect x="4327" y="1780.4" width="6" height="1.2" stroke="none" fill="#fff"/>
<rect x="4329" y="1758.3" width="25" height="16.2" stroke-width="5" fill="none"/>
<rect x="4333" y="1764.5" width="5" height="2.5" stroke="none" fill="#000"/>
<rect x="4345" y="1764.5" width="5" height="2.5" stroke="none" fill="#000"/>
<line x1="4313.2" y1="1836.8" x2="4313.2" y2="1970.6" stroke-width="5"/>
<line x1="4417.5" y1="1836.8" x2="4417.5" y2="1970.6" stroke-width="5"/>
<line x1="4313.2" y1="1839.7" x2="4417.5" y2="1839.7" stroke-width="3.6"/>
<line x1="4313.2" y1="1853.6" x2="4417.5" y2="1853.6" stroke-width="5"/>
<line x1="4313.2" y1="1897.6" x2="4417.5" y2="1897.6" stroke-width="4"/>
<line x1="4313.2" y1="1904" x2="4417.5" y2="1904" stroke-width="2.4"/>
<line x1="4313.2" y1="1919.4" x2="4417.5" y2="1919.4" stroke-width="4"/>
<line x1="4327" y1="1853.6" x2="4327" y2="1897.6" stroke-width="4"/>
<line x1="4405.3" y1="1853.6" x2="4405.3" y2="1897.6" stroke-width="4"/>
<path d="M4327 1858 L4341 1858 L4341 1864 L4329 1875 L4341 1886 L4341 1893 L4327 1893" stroke-width="3.4" fill="none"/>
<path d="M4405.3 1858 L4391 1858 L4391 1864 L4403 1875 L4391 1886 L4391 1893 L4405.3 1893" stroke-width="3.4" fill="none"/>
<circle cx="4330" cy="1910.7" r="5.6" stroke="none" fill="#000"/>
<circle cx="4401" cy="1910.7" r="5.6" stroke="none" fill="#000"/>
<path d="M4055 1973.5L4052 1976.5M4069 1973.5L4052 1990.5M4081.3 1975.2L4076.7 1979.8M4072.4 1984.1L4052 2004.5M4097 1973.5L4072.6 1997.9M4068.3 2002.2L4064 2006.5M4111 1973.5L4101.8 1982.7M4097.1 1987.4L4092.8 1991.7M4088.2 1996.3L4079.3 2005.2M4125 1973.5L4092 2006.5M4139 1973.5L4121.8 1990.7M4117.2 1995.3L4106 2006.5M4151.4 1975.2L4146.7 1979.8M4142.4 1984.1L4120 2006.5M4167 1973.5L4142.6 1997.9M4138.3 2002.2L4134 2006.5M4181 1973.5L4171.8 1982.7M4167.1 1987.4L4162.9 1991.7M4158.2 1996.3L4149.3 2005.2M4195 1973.5L4162 2006.5M4209 1973.5L4191.8 1990.7M4187.2 1995.3L4176 2006.5M4221.4 1975.2L4216.7 1979.8M4212.4 1984.1L4190 2006.5M4237 1973.5L4212.6 1997.9M4208.3 2002.2L4204 2006.5M4251 1973.5L4241.8 1982.7M4237.1 1987.4L4232.9 1991.7M4228.2 1996.3L4219.3 2005.2M4265 1973.5L4232 2006.5M4279 1973.5L4261.8 1990.7M4257.2 1995.3L4246 2006.5M4291.4 1975.2L4286.7 1979.8M4282.4 1984.1L4260 2006.5M4307 1973.5L4282.6 1997.9M4278.3 2002.2L4274 2006.5M4321 1973.5L4311.8 1982.7M4307.1 1987.4L4302.9 1991.7M4298.2 1996.3L4289.3 2005.2M4335 1973.5L4302 2006.5M4349 1973.5L4331.8 1990.7M4327.2 1995.3L4316 2006.5M4361.4 1975.2L4356.7 1979.8M4352.4 1984.1L4330 2006.5M4377 1973.5L4352.6 1997.9M4348.3 2002.2L4344 2006.5M4391 1973.5L4381.8 1982.7M4377.1 1987.4L4372.9 1991.7M4368.2 1996.3L4359.3 2005.2M4405 1973.5L4372 2006.5M4419 1973.5L4401.8 1990.7M4397.2 1995.3L4386 2006.5M4431.4 1975.2L4426.7 1979.8M4422.4 1984.1L4400 2006.5M4447 1973.5L4422.6 1997.9M4418.3 2002.2L4414 2006.5M4461 1973.5L4451.8 1982.7M4447.1 1987.4L4442.9 1991.7M4438.2 1996.3L4429.3 2005.2M4466 1982.5L4442 2006.5M4466 1996.5L4456 2006.5" stroke-width="2.3" fill="none"/>
<line x1="4052" y1="1971.5" x2="4466" y2="1971.5" stroke-width="5.4"/>
<text x="3456" y="1915.7" font-size="44" textLength="611" lengthAdjust="spacingAndGlyphs">Карман всасывающий дымососа</text>
<path d="M3425.3 1928.6 L4099.5 1928.6 L4122.2 1871" stroke-width="1.9" fill="none"/>
<rect x="4117.2" y="1864" width="11" height="11" stroke="none" fill="#1a1a1a" transform="rotate(25 4122.7 1869.5)"/>
</g>
<g id="part_scheme2">
<path d="M3941.2 2190.9 L3941.2 2120.1 L3977.2 2084 L4165.1 2084 L4165.1 2156.1 L4048.1 2156.1 L4013.6 2190.9 L3941.2 2190.9" stroke-width="2.8" fill="none"/>
<line x1="4048.1" y1="2084" x2="4048.1" y2="2156.1" stroke-width="2.8"/>
<line x1="4057.3" y1="2084" x2="4057.3" y2="2156.1" stroke-width="2.8"/>
<line x1="4129.1" y1="2084" x2="4129.1" y2="2156.1" stroke-width="2.8"/>
<line x1="4033" y1="2120.1" x2="4152.8" y2="2120.1" stroke-width="1.9"/>
<line x1="3941.2" y1="2190.9" x2="3931.9" y2="2263.3" stroke-width="2.8"/>
<line x1="4013.6" y1="2190.9" x2="4023.7" y2="2263.3" stroke-width="2.8"/>
<line x1="3977.2" y1="2167.2" x2="3977.2" y2="2263.3" stroke-width="1.9"/>
<rect x="3912.5" y="2266.4" width="151.3" height="120.8" stroke-width="5.2" fill="none"/>
<line x1="3977.2" y1="2266.4" x2="3977.2" y2="2387.2" stroke-width="5.2"/>
<line x1="3924.2" y1="2264.5" x2="4042.8" y2="2264.5" stroke-width="6"/>
<line x1="3924.2" y1="2388" x2="4042.8" y2="2388" stroke-width="6"/>
<line x1="3899.6" y1="2256.3" x2="3899.6" y2="2399.8" stroke-width="7.5"/>
<line x1="3899.6" y1="2266.4" x2="3912.5" y2="2266.4" stroke-width="4"/>
<line x1="3899.6" y1="2389" x2="3912.5" y2="2389" stroke-width="4"/>
<line x1="3781.9" y1="2268" x2="3896.5" y2="2268" stroke-width="1.9"/>
<line x1="3781.9" y1="2387.2" x2="3896.5" y2="2387.2" stroke-width="1.9"/>
<path d="M3781.9 2231 L3781.9 2308 L3805 2316.6 L3757.8 2335.8 L3781.9 2345 L3781.9 2422" stroke-width="1.9" fill="none"/>
<line x1="3686.4" y1="2326.8" x2="4087.5" y2="2326.8" stroke-width="1.8" stroke-dasharray="100 16 16 16 60 16 16 16"/>
<rect x="3816.5" y="2320.8" width="12" height="12" stroke="none" fill="#1a1a1a" transform="rotate(25 3822.5 2326.8)"/>
<text x="3394" y="2436.9" font-size="44" textLength="353" lengthAdjust="spacingAndGlyphs">Газоход от котла</text>
<path d="M3363.2 2450.8 L3781 2450.8 L3822.5 2326.8" stroke-width="1.9" fill="none"/>
<line x1="4092.7" y1="2156.1" x2="4092.7" y2="2392.1" stroke-width="2.8"/>
<line x1="4165.1" y1="2156.1" x2="4165.1" y2="2392.1" stroke-width="2.8"/>
<line x1="4092.7" y1="2392.1" x2="4165.1" y2="2392.1" stroke-width="1.9"/>
<line x1="4092.7" y1="2392.1" x2="4080.4" y2="2462.4" stroke-width="2.8"/>
<line x1="4165.1" y1="2392.1" x2="4176.7" y2="2462.4" stroke-width="2.8"/>
<line x1="4080.4" y1="2462.4" x2="4176.7" y2="2462.4" stroke-width="2.8"/>
<line x1="4080.4" y1="2462.4" x2="4080.4" y2="2556.8" stroke-width="2.8"/>
<line x1="4176.7" y1="2462.4" x2="4176.7" y2="2556.8" stroke-width="2.8"/>
<line x1="4129" y1="2167.2" x2="4129" y2="2581.4" stroke-width="1.8" stroke-dasharray="110 10 10 10 14 10 400"/>
<line x1="4057.5" y1="2485.4" x2="4057.5" y2="2628.2" stroke-width="3.6"/>
<line x1="4199.1" y1="2485.4" x2="4199.1" y2="2628.2" stroke-width="3"/>
<line x1="4057.5" y1="2494.8" x2="4080.4" y2="2494.8" stroke-width="2.8"/>
<line x1="4176.7" y1="2494.8" x2="4199.1" y2="2494.8" stroke-width="2.8"/>
<line x1="4057.5" y1="2556.8" x2="4199.1" y2="2556.8" stroke-width="2.8"/>
<line x1="4057.5" y1="2620" x2="4199.1" y2="2620" stroke-width="2.8"/>
<rect x="4046.9" y="2533.4" width="8.2" height="47.3" stroke-width="2.6" fill="none"/>
<line x1="4201.4" y1="2500" x2="4201.4" y2="2612" stroke-width="5"/>
<line x1="4215.5" y1="2510" x2="4215.5" y2="2612" stroke-width="4.2"/>
<line x1="4200" y1="2509" x2="4240" y2="2509" stroke-width="4"/>
<line x1="4200" y1="2542" x2="4240" y2="2542" stroke-width="4"/>
<line x1="4200" y1="2556.8" x2="4240" y2="2556.8" stroke-width="4"/>
<line x1="4200" y1="2583" x2="4240" y2="2583" stroke-width="4"/>
<line x1="4200" y1="2604" x2="4240" y2="2604" stroke-width="4"/>
<circle cx="4205" cy="2505" r="5.6" stroke="none" fill="#000"/>
<circle cx="4214" cy="2494" r="5.6" stroke="none" fill="#000"/>
<circle cx="4214" cy="2503" r="5.6" stroke="none" fill="#000"/>
<circle cx="4224" cy="2501" r="5.6" stroke="none" fill="#000"/>
<circle cx="4226" cy="2511" r="5.6" stroke="none" fill="#000"/>
<circle cx="4214" cy="2524" r="5.6" stroke="none" fill="#000"/>
<circle cx="4219" cy="2517" r="5.6" stroke="none" fill="#000"/>
<circle cx="4226" cy="2543" r="5.6" stroke="none" fill="#000"/>
<circle cx="4218" cy="2543" r="5.6" stroke="none" fill="#000"/>
<circle cx="4226" cy="2583" r="5.6" stroke="none" fill="#000"/>
<circle cx="4218" cy="2583" r="5.6" stroke="none" fill="#000"/>
<circle cx="4214" cy="2600" r="5.6" stroke="none" fill="#000"/>
<circle cx="4224" cy="2606" r="5.6" stroke="none" fill="#000"/>
<circle cx="4205" cy="2606" r="5.6" stroke="none" fill="#000"/>
<circle cx="4214" cy="2613" r="5.6" stroke="none" fill="#000"/>
<circle cx="4214" cy="2621" r="5.6" stroke="none" fill="#000"/>
<circle cx="4224" cy="2614" r="5.6" stroke="none" fill="#000"/>
<circle cx="4244" cy="2506" r="3.8" stroke="none" fill="#000"/>
<circle cx="4244" cy="2530" r="3.8" stroke="none" fill="#000"/>
<circle cx="4244" cy="2556" r="3.8" stroke="none" fill="#000"/>
<circle cx="4244" cy="2582" r="3.8" stroke="none" fill="#000"/>
<circle cx="4244" cy="2606" r="3.8" stroke="none" fill="#000"/>
<path d="M4256.4 2466 L4246.6 2473 L4246.6 2607.2" stroke-width="4.2" fill="none"/>
<path d="M4256.4 2483 L4250.5 2489 L4250.5 2607" stroke-width="3" fill="none"/>
<rect x="4256.4" y="2449.6" width="59" height="157.6" stroke-width="5.2" fill="#fff"/>
<circle cx="4319.5" cy="2472" r="4.2" stroke="none" fill="#000"/>
<circle cx="4319.5" cy="2481" r="4.2" stroke="none" fill="#000"/>
<circle cx="4319.5" cy="2490" r="4.2" stroke="none" fill="#000"/>
<rect x="4246.6" y="2607.2" width="77.7" height="96.7" stroke-width="5.2" fill="none"/>
<rect x="4256.4" y="2615.4" width="57.4" height="78.4" stroke-width="3.6" fill="none"/>
<rect x="4262.3" y="2621.2" width="44.5" height="18" stroke-width="3.6" fill="none"/>
<line x1="4262.3" y1="2630" x2="4306.8" y2="2630" stroke-width="3"/>
<circle cx="4251.5" cy="2634" r="2.6" stroke="none" fill="#000"/>
<circle cx="4319" cy="2634" r="2.6" stroke="none" fill="#000"/>
<circle cx="4251.5" cy="2655" r="2.6" stroke="none" fill="#000"/>
<circle cx="4319" cy="2655" r="2.6" stroke="none" fill="#000"/>
<circle cx="4251.5" cy="2677" r="2.6" stroke="none" fill="#000"/>
<circle cx="4319" cy="2677" r="2.6" stroke="none" fill="#000"/>
<circle cx="4251.5" cy="2698.8" r="2.6" stroke="none" fill="#000"/>
<circle cx="4319" cy="2698.8" r="2.6" stroke="none" fill="#000"/>
<circle cx="4268" cy="2611.3" r="2.6" stroke="none" fill="#000"/>
<circle cx="4268" cy="2698.8" r="2.6" stroke="none" fill="#000"/>
<circle cx="4284" cy="2611.3" r="2.6" stroke="none" fill="#000"/>
<circle cx="4284" cy="2698.8" r="2.6" stroke="none" fill="#000"/>
<circle cx="4300" cy="2611.3" r="2.6" stroke="none" fill="#000"/>
<circle cx="4300" cy="2698.8" r="2.6" stroke="none" fill="#000"/>
<rect x="4315.4" y="2493.6" width="108.4" height="126.4" stroke-width="5.2" fill="none"/>
<line x1="4315.4" y1="2508.2" x2="4423.8" y2="2508.2" stroke-width="4.6"/>
<line x1="4315.4" y1="2605.5" x2="4423.8" y2="2605.5" stroke-width="4.6"/>
<line x1="4333.7" y1="2508.2" x2="4333.7" y2="2605.5" stroke-width="3"/>
<circle cx="4335.3" cy="2500.7" r="5.2" stroke="none" fill="#000"/>
<circle cx="4406.3" cy="2500.7" r="5.2" stroke="none" fill="#000"/>
<circle cx="4335.3" cy="2613.5" r="5.2" stroke="none" fill="#000"/>
<circle cx="4406.3" cy="2613.5" r="5.2" stroke="none" fill="#000"/>
<circle cx="4326" cy="2516" r="4.5" stroke="none" fill="#000"/>
<circle cx="4326" cy="2597" r="4.5" stroke="none" fill="#000"/>
<path d="M4318 2536 L4329 2524 L4394.6 2524 L4394.6 2590.8 L4329 2590.8 L4318 2580Z" stroke-width="1" fill="#000"/>
<path d="M4394.6 2527.6 L4413 2527.6 L4419.5 2532 L4419.5 2582 L4413 2586.4 L4394.6 2586.4" stroke-width="3.6" fill="#fff"/>
<path d="M4341.5 2547.5 L4351 2547.5 L4356.5 2553 L4356.5 2564.5 L4351 2570 L4341.5 2570 L4336 2564.5 L4336 2553Z" stroke-width="1" fill="#fff" stroke="none"/>
<line x1="4330" y1="2535.5" x2="4392" y2="2535.5" stroke="#fff" stroke-width="1.3" stroke-dasharray="18 5 5 5"/>
<line x1="4330" y1="2579.5" x2="4392" y2="2579.5" stroke="#fff" stroke-width="1.3" stroke-dasharray="18 5 5 5"/>
</g>
</svg></body></html>
